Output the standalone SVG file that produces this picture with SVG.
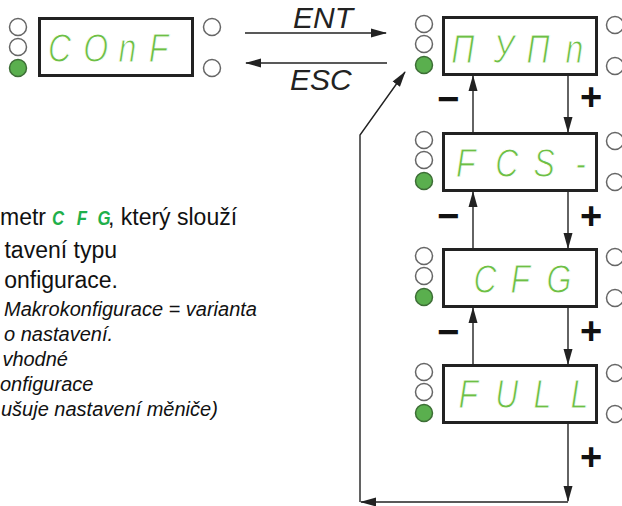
<svg xmlns="http://www.w3.org/2000/svg" width="622" height="506" viewBox="0 0 622 506">
<style>
.box{fill:#fff;stroke:#222;stroke-width:3}
.led{fill:#fff;stroke:#666;stroke-width:1.5}
.ledon{fill:#5aaf4e;stroke:#3d6e36;stroke-width:1.5}
.seg{font-family:"Liberation Sans",Arial,sans-serif;font-style:italic;font-size:40px;fill:#6dbf45;stroke:#fff;stroke-width:1}
.key{font-family:"Liberation Sans",Arial,sans-serif;font-style:italic;font-size:30px;fill:#222}
.pm{font-family:"Liberation Sans",Arial,sans-serif;font-weight:bold;font-size:38px;fill:#111;text-anchor:middle}
.t{font-family:"Liberation Sans",Arial,sans-serif;font-size:23px;fill:#111}
.ti{font-family:"Liberation Sans",Arial,sans-serif;font-style:italic;font-size:20px;fill:#111}
.ln{fill:none;stroke:#222;stroke-width:1.4}
</style>
<defs>
<marker id="ah" markerWidth="16" markerHeight="10" refX="15" refY="5" orient="auto" markerUnits="userSpaceOnUse">
<path d="M0,0.5 L16,5 L0,9.5 z" fill="#222"/>
</marker>
</defs>

<g id="node-conf">
<circle class="led" cx="18" cy="27" r="8.5"/>
<circle class="led" cx="18" cy="47" r="8.5"/>
<circle class="ledon" cx="18" cy="68" r="8.5"/>
<circle class="led" cx="212" cy="27" r="8.5"/>
<circle class="led" cx="212" cy="68" r="8.5"/>
<rect class="box" x="39.5" y="18.5" width="153" height="57"/>
<text class="seg" transform="scale(0.8 1)" x="60 104 148 186" y="62">COnF</text>
</g>

<g id="node-mymn">
<circle class="led" cx="424" cy="24" r="8.5"/>
<circle class="led" cx="424" cy="44" r="8.5"/>
<circle class="ledon" cx="424" cy="65" r="8.5"/>
<circle class="led" cx="615" cy="25" r="8.5"/>
<circle class="led" cx="615" cy="66" r="8.5"/>
<rect class="box" x="443.5" y="17.5" width="153" height="57"/>
<text class="seg" transform="scale(0.8 1)" x="564 617 658 707" y="63">ПУПn</text>
</g>

<g id="node-fcs">
<circle class="led" cx="424" cy="140" r="8.5"/>
<circle class="led" cx="424" cy="160" r="8.5"/>
<circle class="ledon" cx="424" cy="181" r="8.5"/>
<circle class="led" cx="615" cy="141" r="8.5"/>
<circle class="led" cx="615" cy="182" r="8.5"/>
<rect class="box" x="443.5" y="133.5" width="153" height="57"/>
<text class="seg" transform="scale(0.8 1)" x="570 619 667 719" y="177">FCS-</text>
</g>

<g id="node-cfg">
<circle class="led" cx="424" cy="256" r="8.5"/>
<circle class="led" cx="424" cy="276" r="8.5"/>
<circle class="ledon" cx="424" cy="297" r="8.5"/>
<circle class="led" cx="615" cy="257" r="8.5"/>
<circle class="led" cx="615" cy="298" r="8.5"/>
<rect class="box" x="443.5" y="249.5" width="153" height="57"/>
<text class="seg" transform="scale(0.8 1)" x="592 638 683" y="293">CFG</text>
</g>

<g id="node-full">
<circle class="led" cx="424" cy="372" r="8.5"/>
<circle class="led" cx="424" cy="392" r="8.5"/>
<circle class="ledon" cx="424" cy="413" r="8.5"/>
<circle class="led" cx="615" cy="373" r="8.5"/>
<circle class="led" cx="615" cy="414" r="8.5"/>
<rect class="box" x="443.5" y="365.5" width="153" height="57"/>
<text class="seg" transform="scale(0.8 1)" x="573 619 667 713" y="408">FULL</text>
</g>

<g id="connectors">
<line class="ln" x1="245" y1="33" x2="386" y2="33" marker-end="url(#ah)"/>
<line class="ln" x1="387" y1="63" x2="246" y2="63" marker-end="url(#ah)"/>
<line class="ln" x1="473" y1="132" x2="473" y2="76" marker-end="url(#ah)"/>
<line class="ln" x1="568" y1="76" x2="568" y2="132" marker-end="url(#ah)"/>
<line class="ln" x1="473" y1="248" x2="473" y2="192" marker-end="url(#ah)"/>
<line class="ln" x1="568" y1="192" x2="568" y2="248" marker-end="url(#ah)"/>
<line class="ln" x1="473" y1="364" x2="473" y2="308" marker-end="url(#ah)"/>
<line class="ln" x1="568" y1="308" x2="568" y2="364" marker-end="url(#ah)"/>
<line class="ln" x1="568" y1="424" x2="568" y2="501" marker-end="url(#ah)"/>
<line class="ln" x1="568" y1="502" x2="361" y2="502" marker-end="url(#ah)"/>
<polyline class="ln" points="360,502 360,135 405,72" marker-end="url(#ah)"/>
</g>

<g id="labels">
<text class="key" x="293" y="28">ENT</text>
<text class="key" x="290" y="90">ESC</text>
<text class="pm" x="448" y="112">−</text>
<text class="pm" x="591" y="110">+</text>
<text class="pm" x="448" y="229">−</text>
<text class="pm" x="591" y="229">+</text>
<text class="pm" x="448" y="345">−</text>
<text class="pm" x="591" y="344">+</text>
<text class="pm" x="591" y="470">+</text>
</g>

<g id="description">
<text class="t" x="0" y="225">metr</text>
<text transform="scale(0.8 1)" x="65 96 122" y="225" style="font-family:'Liberation Sans',Arial,sans-serif;font-style:italic;font-weight:bold;font-size:21px;fill:#1fb04b">CFG</text>
<text class="t" x="108" y="225">, který slouží</text>
<text class="t" x="117" y="258" text-anchor="end">tavení typu</text>
<text class="t" x="118" y="288" text-anchor="end">onfigurace.</text>
<text class="ti" x="257" y="316" text-anchor="end">Makrokonfigurace = varianta</text>
<text class="ti" x="113" y="341" text-anchor="end">o nastavení.</text>
<text class="ti" x="68" y="366" text-anchor="end">vhodné</text>
<text class="ti" x="0" y="391">onfigurace</text>
<text class="ti" x="1" y="416">ušuje nastavení měniče)</text>
</g>
</svg>
